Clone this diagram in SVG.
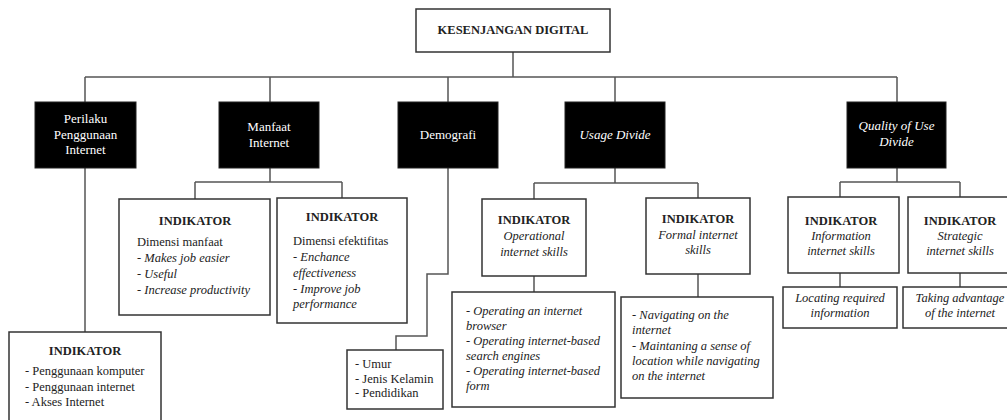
<svg xmlns="http://www.w3.org/2000/svg" width="1007" height="420" viewBox="0 0 1007 420" font-family="'Liberation Serif', 'Times New Roman', 'DejaVu Serif', serif">
<style>
text{font-family:'Liberation Serif','Times New Roman','DejaVu Serif',serif}
.conn{stroke:#555;stroke-width:1.5;fill:none}
.box{fill:#fff;stroke:#333;stroke-width:1.5}
.dark{fill:#000;stroke:#222;stroke-width:1}
.wt{fill:#fff;font-size:13px;text-anchor:middle}
.t{fill:#222;font-size:12.5px}
.c{text-anchor:middle}
.b{font-weight:bold}
.i{font-style:italic}
</style>
<rect width="1007" height="420" fill="#fff"/>
<g id="connectors">
<path class="conn" d="M513,52 V77 M85,77 H897 M85,77 V102 M270,77 V102 M448,77 V102 M615,77 V102 M897,77 V102"/>
<path class="conn" d="M85,168 V332"/>
<path class="conn" d="M270,168 V182 M195,182 H342 M195,182 V199 M342,182 V198"/>
<path class="conn" d="M448,168 V274 H427 V336 H396 V350"/>
<path class="conn" d="M615,168 V183 M534,183 H698 M534,183 V199 M698,183 V198"/>
<path class="conn" d="M534,276 V292 M698,274 V297"/>
<path class="conn" d="M897,168 V182 M840,182 H960 M840,182 V197 M960,182 V197"/>
<path class="conn" d="M840,273 V287 M960,273 V287"/>
</g>
<g id="root">
<rect class="box" x="416" y="9" width="194" height="43"/>
<text class="t b c" x="513" y="34">KESENJANGAN DIGITAL</text>
</g>
<g id="perilaku">
<rect class="dark" x="35" y="102" width="101" height="66"/>
<text class="wt" x="85.5" y="123">Perilaku</text>
<text class="wt" x="85.5" y="138.5">Penggunaan</text>
<text class="wt" x="85.5" y="154">Internet</text>
</g>
<g id="manfaat">
<rect class="dark" x="219" y="102" width="100" height="66"/>
<text class="wt" x="269" y="131">Manfaat</text>
<text class="wt" x="269" y="147">Internet</text>
</g>
<g id="demografi">
<rect class="dark" x="398" y="102" width="100" height="66"/>
<text class="wt" x="448" y="139">Demografi</text>
</g>
<g id="usage">
<rect class="dark" x="565" y="102" width="100" height="66"/>
<text class="wt i" x="615" y="139">Usage Divide</text>
</g>
<g id="quality">
<rect class="dark" x="847" y="102" width="99" height="66"/>
<text class="wt i" x="896.5" y="130">Quality of Use</text>
<text class="wt i" x="896.5" y="146">Divide</text>
</g>
<g id="perilaku-ind">
<rect class="box" x="9" y="332" width="152" height="100"/>
<text class="t b c" x="85" y="355">INDIKATOR</text>
<text class="t" x="25" y="375">- Penggunaan komputer</text>
<text class="t" x="25" y="390.5">- Penggunaan internet</text>
<text class="t" x="25" y="406">- Akses Internet</text>
</g>
<g id="manfaat-ind1">
<rect class="box" x="119" y="199" width="151" height="116"/>
<text class="t b c" x="195" y="225">INDIKATOR</text>
<text class="t" x="137" y="246">Dimensi manfaat</text>
<text class="t" x="137" y="262">- <tspan class="i">Makes job easier</tspan></text>
<text class="t" x="137" y="278">- <tspan class="i">Useful</tspan></text>
<text class="t" x="137" y="294">- <tspan class="i">Increase productivity</tspan></text>
</g>
<g id="manfaat-ind2">
<rect class="box" x="277" y="198" width="130" height="125"/>
<text class="t b c" x="342" y="221">INDIKATOR</text>
<text class="t" x="293" y="245">Dimensi efektifitas</text>
<text class="t" x="293" y="261">- <tspan class="i">Enchance</tspan></text>
<text class="t i" x="293" y="276.5">effectiveness</text>
<text class="t" x="293" y="292.5">- <tspan class="i">Improve job</tspan></text>
<text class="t i" x="293" y="308">performance</text>
</g>
<g id="demografi-list">
<rect class="box" x="347" y="350" width="96" height="59"/>
<text class="t" x="355" y="368">- Umur</text>
<text class="t" x="355" y="382.5">- Jenis Kelamin</text>
<text class="t" x="355" y="397">- Pendidikan</text>
</g>
<g id="operational">
<rect class="box" x="482" y="199" width="104" height="77"/>
<text class="t b c" x="534" y="224">INDIKATOR</text>
<text class="t i c" x="534" y="240">Operational</text>
<text class="t i c" x="534" y="255.5">internet skills</text>
</g>
<g id="formal">
<rect class="box" x="646" y="198" width="104" height="76"/>
<text class="t b c" x="698" y="223">INDIKATOR</text>
<text class="t i c" x="698" y="238.5">Formal internet</text>
<text class="t i c" x="698" y="253.5">skills</text>
</g>
<g id="operational-list">
<rect class="box" x="452" y="292" width="163" height="115"/>
<text class="t" x="466" y="315">- <tspan class="i">Operating an internet</tspan></text>
<text class="t i" x="466" y="330">browser</text>
<text class="t" x="466" y="345">- <tspan class="i">Operating internet-based</tspan></text>
<text class="t i" x="466" y="360">search engines</text>
<text class="t" x="466" y="375">- <tspan class="i">Operating internet-based</tspan></text>
<text class="t i" x="466" y="390">form</text>
</g>
<g id="formal-list">
<rect class="box" x="621" y="297" width="152" height="101"/>
<text class="t" x="632" y="319">- <tspan class="i">Navigating on the</tspan></text>
<text class="t i" x="632" y="334">internet</text>
<text class="t" x="632" y="349.5">- <tspan class="i">Maintaning a sense of</tspan></text>
<text class="t i" x="632" y="364.5">location while navigating</text>
<text class="t i" x="632" y="380">on the internet</text>
</g>
<g id="information">
<rect class="box" x="788" y="197" width="111" height="76"/>
<text class="t b c" x="841" y="225">INDIKATOR</text>
<text class="t i c" x="841" y="240">Information</text>
<text class="t i c" x="841" y="254.5">internet skills</text>
</g>
<g id="strategic">
<rect class="box" x="908" y="197" width="105" height="76"/>
<text class="t b c" x="960" y="225">INDIKATOR</text>
<text class="t i c" x="960" y="240">Strategic</text>
<text class="t i c" x="960" y="254.5">internet skills</text>
</g>
<g id="locating">
<rect class="box" x="783" y="287" width="114" height="41"/>
<text class="t i c" x="840" y="302">Locating required</text>
<text class="t i c" x="840" y="317">information</text>
</g>
<g id="taking">
<rect class="box" x="903" y="287" width="110" height="41"/>
<text class="t i c" x="960" y="302">Taking advantage</text>
<text class="t i c" x="960" y="317">of the internet</text>
</g>
</svg>
